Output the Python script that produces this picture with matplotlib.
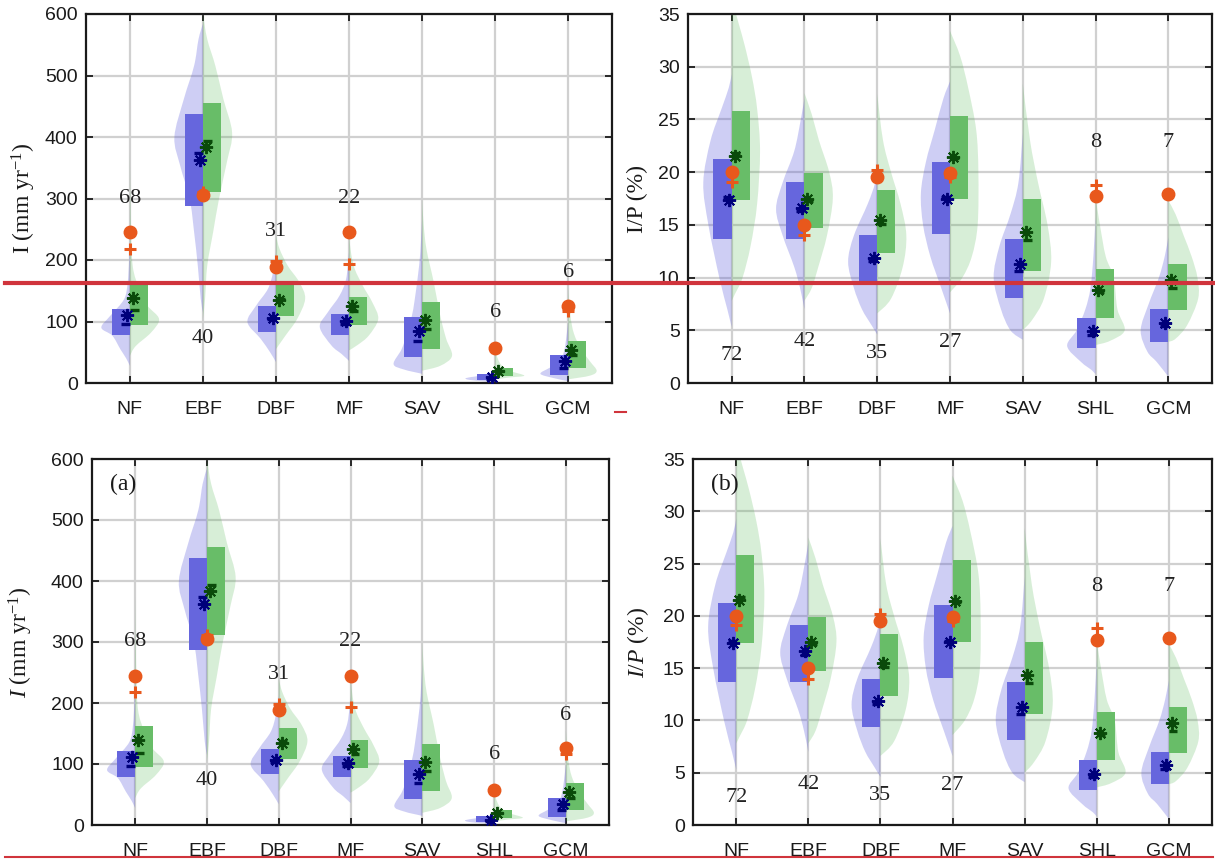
import numpy as np
import matplotlib
matplotlib.use("Agg")
import matplotlib.pyplot as plt
from matplotlib.path import Path
from matplotlib.patches import PathPatch, Rectangle
from matplotlib.lines import Line2D

plt.rcParams['font.family'] = ['Liberation Sans', 'DejaVu Sans']
plt.rcParams['mathtext.fontset'] = 'custom'
plt.rcParams['mathtext.rm'] = 'Liberation Serif'
plt.rcParams['mathtext.it'] = 'Liberation Serif:italic'

categories = ['NF', 'EBF', 'DBF', 'MF', 'SAV', 'SHL', 'GCM']
nan = np.nan

# ---------------- interception I (mm yr-1) ----------------
i_blue_q25 = [78, 287, 83, 78, 42, 5, 13]
i_blue_q75 = [121, 437, 125, 113, 107, 14, 45]
i_blue_median = [96, 374, 104, 96, 69, 7, 25]
i_blue_mean = [111, 363, 106, 101, 84, 9, 35]
i_green_q25 = [95, 311, 109, 94, 56, 12, 25]
i_green_q75 = [162, 455, 159, 140, 132, 25, 69]
i_green_median = [118, 394, 137, 117, 88, 20, 45]
i_green_mean = [139, 383, 135, 125, 103, 20, 54]
i_ref_circle = [245, 305, 188, 245, nan, 57, 126]
i_ref_plus = [218, 311, 199, 193, nan, nan, 117]
i_counts = [68, 40, 31, 22, None, 6, 6]
i_count_y = [300, 73, 247, 300, None, 115, 180]

i_blue_violin_y = [
    [28, 40, 55, 77, 90, 109, 136, 163, 200, 240],
    [115, 137, 191, 245, 299, 353, 400, 462, 516, 559, 584],
    [34, 50, 72, 99, 126, 153, 180, 212],
    [36, 47, 61, 91, 115, 142, 169, 212],
    [15, 22, 31, 55, 82, 109, 136, 191, 230, 265],
    [1, 2, 5, 8, 11, 15, 20, 25],
    [3, 8, 15, 25, 35, 50, 70, 100],
]
i_blue_violin_w = [
    [0, 0.05, 0.13, 0.24, 0.39, 0.27, 0.08, 0.03, 0.01, 0],
    [0, 0.03, 0.07, 0.12, 0.18, 0.31, 0.39, 0.26, 0.12, 0.06, 0],
    [0, 0.08, 0.21, 0.39, 0.27, 0.11, 0.04, 0],
    [0, 0.10, 0.24, 0.40, 0.29, 0.13, 0.04, 0],
    [0, 0.25, 0.39, 0.28, 0.20, 0.14, 0.10, 0.04, 0.015, 0],
    [0, 0.08, 0.35, 0.40, 0.25, 0.08, 0.02, 0],
    [0, 0.20, 0.38, 0.25, 0.12, 0.06, 0.03, 0],
]
i_green_violin_y = [
    [44, 60, 82, 104, 126, 153, 190, 260, 375],
    [104, 137, 191, 245, 299, 360, 407, 462, 516, 559, 600],
    [55, 77, 104, 137, 164, 191, 218, 240],
    [53, 62, 77, 104, 131, 158, 185, 210, 240],
    [20, 28, 44, 72, 109, 164, 218, 260, 300],
    [6, 9, 12, 20, 30, 45, 56],
    [6, 12, 20, 35, 55, 80, 110, 155],
]
i_green_violin_w = [
    [0, 0.08, 0.29, 0.40, 0.24, 0.13, 0.04, 0.015, 0],
    [0, 0.03, 0.06, 0.14, 0.22, 0.33, 0.40, 0.28, 0.17, 0.06, 0],
    [0, 0.13, 0.29, 0.40, 0.32, 0.16, 0.05, 0],
    [0, 0.12, 0.27, 0.40, 0.32, 0.19, 0.08, 0.03, 0],
    [0, 0.25, 0.41, 0.33, 0.25, 0.16, 0.06, 0.02, 0],
    [0, 0.20, 0.40, 0.20, 0.08, 0.02, 0],
    [0, 0.30, 0.39, 0.30, 0.18, 0.08, 0.03, 0],
]

# ---------------- interception ratio I/P (%) ----------------
r_blue_q25 = [13.7, 13.7, 9.4, 14.1, 8.1, 3.3, 3.9]
r_blue_q75 = [21.2, 19.1, 14.0, 21.0, 13.7, 6.2, 7.0]
r_blue_median = [17.6, 16.3, 11.6, 17.6, 10.6, 4.6, 5.4]
r_blue_mean = [17.4, 16.6, 11.9, 17.5, 11.3, 4.9, 5.7]
r_green_q25 = [17.4, 14.7, 12.3, 17.5, 10.6, 6.2, 6.9]
r_green_q75 = [25.8, 19.9, 18.3, 25.3, 17.5, 10.8, 11.3]
r_green_median = [21.8, 17.3, 15.1, 21.3, 13.6, 8.6, 9.0]
r_green_mean = [21.5, 17.5, 15.5, 21.4, 14.3, 8.8, 9.8]
r_ref_circle = [20.0, 15.0, 19.5, 19.9, nan, 17.7, 17.9]
r_ref_plus = [19.1, 14.0, 20.2, 19.5, nan, 18.8, nan]
r_counts = [72, 42, 35, 27, None, 8, 7]
r_count_y = [2.6, 3.9, 2.8, 3.8, None, 22.8, 22.8]

r_blue_violin_y = [
    [5.3, 7, 10, 15, 19, 23, 26, 28, 29.3],
    [7, 9, 11, 14, 16.5, 19, 22, 25, 27],
    [4.6, 5.5, 7, 9, 11.5, 14, 17, 19, 21],
    [6.6, 9, 12, 15, 18, 21, 24, 27, 28.6],
    [4.1, 5, 7, 10, 13, 16, 19, 23.7],
    [0.8, 1.2, 2, 3.5, 5, 7, 9, 12, 15.7],
    [0.6, 2, 3, 5, 7.5, 10, 12, 13.8],
]
r_blue_violin_w = [
    [0, 0.06, 0.17, 0.32, 0.39, 0.29, 0.14, 0.04, 0],
    [0, 0.06, 0.14, 0.30, 0.39, 0.30, 0.14, 0.05, 0],
    [0, 0.08, 0.21, 0.32, 0.40, 0.32, 0.13, 0.03, 0],
    [0, 0.12, 0.27, 0.37, 0.40, 0.33, 0.21, 0.09, 0],
    [0, 0.17, 0.30, 0.40, 0.32, 0.17, 0.06, 0],
    [0, 0.05, 0.20, 0.39, 0.26, 0.14, 0.07, 0.03, 0],
    [0, 0.16, 0.29, 0.38, 0.27, 0.13, 0.05, 0],
]
r_green_violin_y = [
    [7.8, 8.5, 10, 13, 17, 22, 26, 29, 32, 34, 35.5],
    [7.8, 9, 11, 14, 17.5, 20, 23, 25.5, 27.5],
    [6.6, 8, 11, 14, 17, 20, 23, 27.4],
    [8.6, 10, 12, 15, 20, 24, 28, 31, 33.4],
    [5, 6, 8, 11.5, 15, 19, 23, 28.4],
    [3.6, 4, 5, 7, 10, 12, 15, 17.6],
    [3.9, 4.2, 5.5, 8, 10, 12, 14, 16, 17.3],
]
r_green_violin_w = [
    [0, 0.05, 0.15, 0.26, 0.35, 0.39, 0.35, 0.28, 0.18, 0.10, 0.04],
    [0, 0.10, 0.19, 0.31, 0.39, 0.34, 0.20, 0.10, 0],
    [0, 0.19, 0.35, 0.40, 0.32, 0.19, 0.08, 0],
    [0, 0.17, 0.30, 0.38, 0.39, 0.36, 0.25, 0.14, 0],
    [0, 0.13, 0.29, 0.39, 0.34, 0.21, 0.10, 0],
    [0, 0.20, 0.40, 0.30, 0.25, 0.14, 0.06, 0],
    [0, 0.10, 0.26, 0.41, 0.40, 0.32, 0.21, 0.10, 0],
]

# ---------------- styling ----------------
BLUE_VIOLIN = (0.30, 0.30, 0.85, 0.27)
GREEN_VIOLIN = (0.30, 0.70, 0.30, 0.22)
BLUE_BOX = '#6666dd'
GREEN_BOX = '#68bd68'
BLUE_MARK = '#00007a'
GREEN_MARK = '#0a4a0a'
ORANGE = '#e8581c'
SERIF = 'Liberation Serif'
ASTERISK = (8, 2, 0)


def half_violin(ax, x0, ys, ws, side, color):
    """Smooth half-violin outline (Catmull-Rom through the profile)."""
    pts = np.column_stack([x0 + side * np.asarray(ws, float), np.asarray(ys, float)])
    verts = [tuple(pts[0])]
    codes = [Path.MOVETO]
    n = len(pts)
    for i in range(n - 1):
        p0 = pts[max(i - 1, 0)]
        p1 = pts[i]
        p2 = pts[i + 1]
        p3 = pts[min(i + 2, n - 1)]
        c1 = p1 + (p2 - p0) / 6.0
        c2 = p2 - (p3 - p1) / 6.0
        verts += [tuple(c1), tuple(c2), tuple(p2)]
        codes += [Path.CURVE4] * 3
    verts += [(x0, ys[-1]), (x0, ys[0]), (x0, ys[0])]
    codes += [Path.LINETO, Path.LINETO, Path.CLOSEPOLY]
    ax.add_patch(PathPatch(Path(verts, codes), facecolor=color,
                           edgecolor='none', zorder=1))


def draw_panel(ax, bq25, bq75, bmed, bmean, gq25, gq75, gmed, gmean,
               circ, plus, counts, count_y, bvy, bvw, gvy, gvw,
               ymax, ystep, ylabel, tag):
    box_w = 0.25
    dash_w = 0.12
    for k in range(len(categories)):
        x = k + 1
        half_violin(ax, x, bvy[k], bvw[k], -1, BLUE_VIOLIN)
        half_violin(ax, x, gvy[k], gvw[k], +1, GREEN_VIOLIN)
        ax.add_patch(Rectangle((x - box_w, bq25[k]), box_w, bq75[k] - bq25[k],
                               facecolor=BLUE_BOX, edgecolor='none', zorder=2))
        ax.add_patch(Rectangle((x, gq25[k]), box_w, gq75[k] - gq25[k],
                               facecolor=GREEN_BOX, edgecolor='none', zorder=2))
        ax.plot([x - dash_w, x], [bmed[k]] * 2, color=BLUE_MARK, lw=2.4,
                solid_capstyle='butt', zorder=3)
        ax.plot([x, x + dash_w], [gmed[k]] * 2, color=GREEN_MARK, lw=2.4,
                solid_capstyle='butt', zorder=3)
        ax.plot(x - 0.04, bmean[k], marker=ASTERISK, ms=9.5, mew=1.4,
                color=BLUE_MARK, linestyle='none', zorder=4)
        ax.plot(x + 0.04, gmean[k], marker=ASTERISK, ms=9.5, mew=1.4,
                color=GREEN_MARK, linestyle='none', zorder=4)
        if not np.isnan(plus[k]):
            ax.plot(x, plus[k], marker='+', ms=9, mew=2.2, color=ORANGE,
                    linestyle='none', zorder=5)
        if not np.isnan(circ[k]):
            ax.plot(x, circ[k], marker='o', ms=9, color=ORANGE,
                    markeredgecolor=ORANGE, linestyle='none', zorder=5)
        if counts[k] is not None:
            ax.text(x, count_y[k], str(counts[k]), ha='center', va='center',
                    fontfamily=SERIF, fontsize=16, color='#222222', zorder=6)

    ax.set_xlim(0.4, 7.6)
    ax.set_ylim(0, ymax)
    ax.set_xticks(range(1, len(categories) + 1))
    ax.set_xticklabels(categories)
    ax.set_yticks(np.arange(0, ymax + 0.1, ystep))
    ax.grid(True, color='#d0d0d0', lw=1.6)
    ax.set_axisbelow(True)
    ax.tick_params(direction='in', top=True, right=True, length=5, width=1.3,
                   labelsize=14, colors='#1a1a1a')
    ax.tick_params(axis='x', pad=13)
    ax.tick_params(axis='y', pad=6)
    for sp in ax.spines.values():
        sp.set_linewidth(1.6)
        sp.set_color('#1a1a1a')
    ax.set_ylabel(ylabel, fontfamily=SERIF, fontsize=17, color='#1a1a1a')
    if tag:
        ax.text(0.035, 0.93, tag, transform=ax.transAxes, fontfamily=SERIF,
                fontsize=17, ha='left', va='center', color='#1a1a1a', zorder=7)


W, H = 1215, 860
fig = plt.figure(figsize=(W / 100, H / 100), dpi=100)

ax_tl = fig.add_axes([86 / W, 1 - 383 / H, 526 / W, 369 / H])
ax_tr = fig.add_axes([688 / W, 1 - 383 / H, 524 / W, 369 / H])
ax_bl = fig.add_axes([92 / W, 1 - 825 / H, 517 / W, 366 / H])
ax_br = fig.add_axes([693 / W, 1 - 825 / H, 519 / W, 366 / H])

i_args = (i_blue_q25, i_blue_q75, i_blue_median, i_blue_mean,
          i_green_q25, i_green_q75, i_green_median, i_green_mean,
          i_ref_circle, i_ref_plus, i_counts, i_count_y,
          i_blue_violin_y, i_blue_violin_w, i_green_violin_y, i_green_violin_w)
r_args = (r_blue_q25, r_blue_q75, r_blue_median, r_blue_mean,
          r_green_q25, r_green_q75, r_green_median, r_green_mean,
          r_ref_circle, r_ref_plus, r_counts, r_count_y,
          r_blue_violin_y, r_blue_violin_w, r_green_violin_y, r_green_violin_w)

draw_panel(ax_tl, *i_args, 600, 100, r'I (mm yr$^{-1}$)', None)
draw_panel(ax_tr, *r_args, 35, 5, 'I/P (%)', None)
draw_panel(ax_bl, *i_args, 600, 100, r'$\mathit{I}$ (mm yr$^{-1}$)', '(a)')
draw_panel(ax_br, *r_args, 35, 5, r'$\mathit{I/P}$ (%)', '(b)')

ax_tl.yaxis.set_label_coords(-0.092, 0.5)
ax_tr.yaxis.set_label_coords(-0.077, 0.5)
ax_bl.yaxis.set_label_coords(-0.110, 0.5)
ax_br.yaxis.set_label_coords(-0.080, 0.5)

# red rule lines across the sheet
RED = '#d0343c'
fig.add_artist(Line2D([5 / W, 1.0], [1 - 283 / H] * 2, transform=fig.transFigure,
                      color=RED, lw=3.0, zorder=20))
fig.add_artist(Line2D([615 / W, 626 / W], [1 - 412 / H] * 2, transform=fig.transFigure,
                      color=RED, lw=1.5, zorder=20))
fig.add_artist(Line2D([5 / W, 1213 / W], [1 - 857 / H] * 2, transform=fig.transFigure,
                      color=RED, lw=1.5, zorder=20))

fig.savefig('out.png', dpi=100)
